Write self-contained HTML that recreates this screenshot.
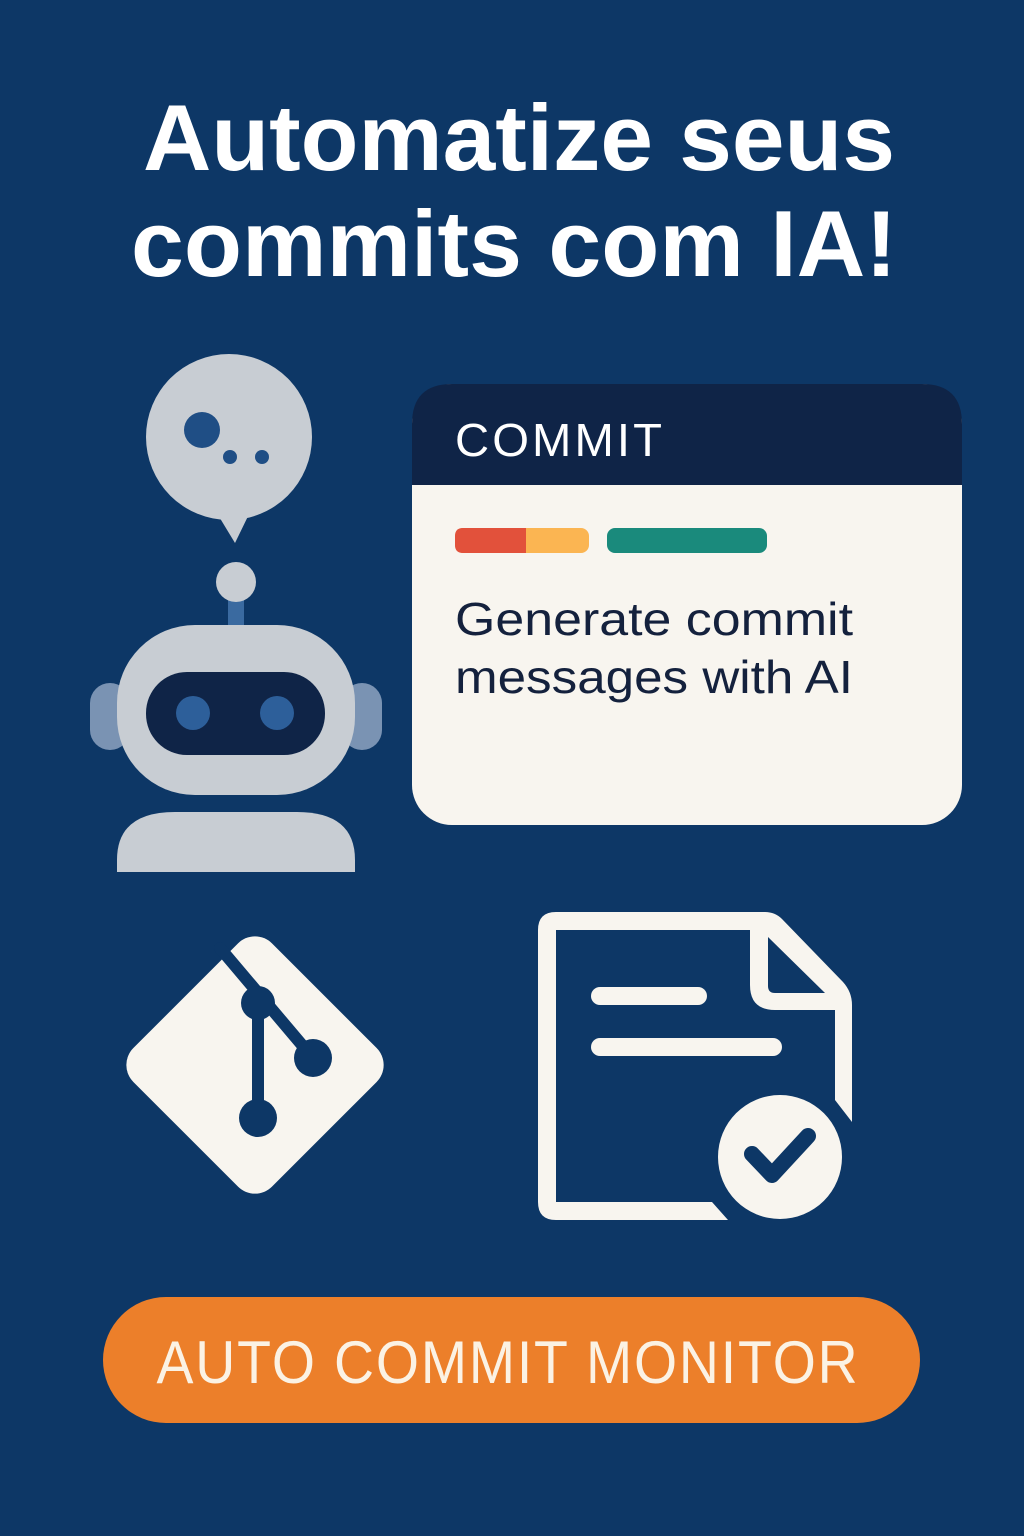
<!DOCTYPE html>
<html><head><meta charset="utf-8"><style>
html,body{margin:0;padding:0;background:#0d3766;}
svg{display:block}
</style></head><body>
<svg width="1024" height="1536" viewBox="0 0 1024 1536" xmlns="http://www.w3.org/2000/svg">
<rect width="1024" height="1536" fill="#0d3766"/>
<g font-family="Liberation Sans, sans-serif" font-weight="bold" fill="#ffffff" text-anchor="middle">
<text x="519" y="170" font-size="94" textLength="752" lengthAdjust="spacingAndGlyphs">Automatize seus</text>
<text x="514" y="276" font-size="94" textLength="766" lengthAdjust="spacingAndGlyphs">commits com IA!</text>
</g>
<!-- speech bubble -->
<circle cx="229" cy="437" r="83" fill="#c8cdd3"/>
<path d="M215 510 L235 543 L252 508 Z" fill="#c8cdd3"/>
<circle cx="202" cy="430" r="18" fill="#1f4e85"/>
<circle cx="230" cy="457" r="7" fill="#1f4e85"/>
<circle cx="262" cy="457" r="7" fill="#1f4e85"/>
<!-- antenna -->
<rect x="228" y="595" width="16" height="35" fill="#3a6aa0"/>
<circle cx="236" cy="582" r="20" fill="#c8cdd3"/>
<!-- ears -->
<rect x="90" y="683" width="40" height="67" rx="20" fill="#7a93b3"/>
<rect x="342" y="683" width="40" height="67" rx="20" fill="#7a93b3"/>
<!-- head -->
<rect x="117" y="625" width="238" height="170" rx="78" fill="#c8cdd3"/>
<rect x="146" y="672" width="179" height="83" rx="41" fill="#0f2447"/>
<circle cx="193" cy="713" r="17" fill="#2d5f9a"/>
<circle cx="277" cy="713" r="17" fill="#2d5f9a"/>
<!-- body -->
<path d="M117 872 L117 860 Q117 812 175 812 L297 812 Q355 812 355 860 L355 872 Z" fill="#c8cdd3"/>
<!-- card -->
<rect x="412" y="384" width="550" height="441" rx="40" fill="#f8f5ef"/>
<path d="M412 485 L412 424 Q412 384 452 384 L922 384 Q962 384 962 424 L962 485 Z" fill="#0f2447"/>
<text x="455" y="456" font-family="Liberation Sans, sans-serif" font-size="46" fill="#fff" letter-spacing="3" textLength="210" lengthAdjust="spacingAndGlyphs">COMMIT</text>
<rect x="455" y="528" width="134" height="25" rx="8" fill="#fbb552"/>
<path d="M463 528 L526 528 L526 553 L463 553 Q455 553 455 545 L455 536 Q455 528 463 528 Z" fill="#e2513b"/>
<rect x="607" y="528" width="160" height="25" rx="8" fill="#1a8a7c"/>
<g font-family="Liberation Sans, sans-serif" font-size="46" fill="#14213d">
<text x="455" y="635" textLength="398" lengthAdjust="spacingAndGlyphs">Generate commit</text>
<text x="455" y="693" textLength="398" lengthAdjust="spacingAndGlyphs">messages with AI</text>
</g>
<!-- git icon -->
<rect x="157" y="967" width="196" height="196" rx="24" fill="#f8f5ef" transform="rotate(45 255 1065)"/>
<g stroke="#0d3766" stroke-width="12" fill="none" stroke-linecap="round">
<path d="M220 948 L313 1058"/>
<path d="M258 1003 L258 1118"/>
</g>
<circle cx="258" cy="1003" r="17" fill="#0d3766"/>
<circle cx="313" cy="1058" r="19" fill="#0d3766"/>
<circle cx="258" cy="1118" r="19" fill="#0d3766"/>
<!-- document -->
<path d="M556 912 L765 912 Q775 912 782 919 L843 982 Q852 992 852 1005 L852 1122 L835 1100 L835 1010 L775 1010 Q750 1010 750 985 L750 930 L556 930 L556 1202 L712 1202 L728 1220 L556 1220 Q538 1220 538 1202 L538 930 Q538 912 556 912 Z" fill="#f8f5ef"/>
<path d="M768 937 L825 993 L775 993 Q768 993 768 986 Z" fill="#0d3766"/>
<rect x="591" y="987" width="116" height="18" rx="9" fill="#f8f5ef"/>
<rect x="591" y="1038" width="191" height="18" rx="9" fill="#f8f5ef"/>
<circle cx="780" cy="1157" r="62" fill="#f8f5ef"/>
<path d="M752 1154 L772 1175 L808 1136" stroke="#0d3766" stroke-width="16" fill="none" stroke-linecap="round" stroke-linejoin="round"/>
<!-- button -->
<rect x="103" y="1297" width="817" height="126" rx="63" fill="#ec7f2a"/>
<text x="508" y="1383" text-anchor="middle" font-family="Liberation Sans, sans-serif" font-size="60" fill="#fbf2e4" letter-spacing="2" textLength="703" lengthAdjust="spacingAndGlyphs">AUTO COMMIT MONITOR</text>
</svg>
</body></html>
